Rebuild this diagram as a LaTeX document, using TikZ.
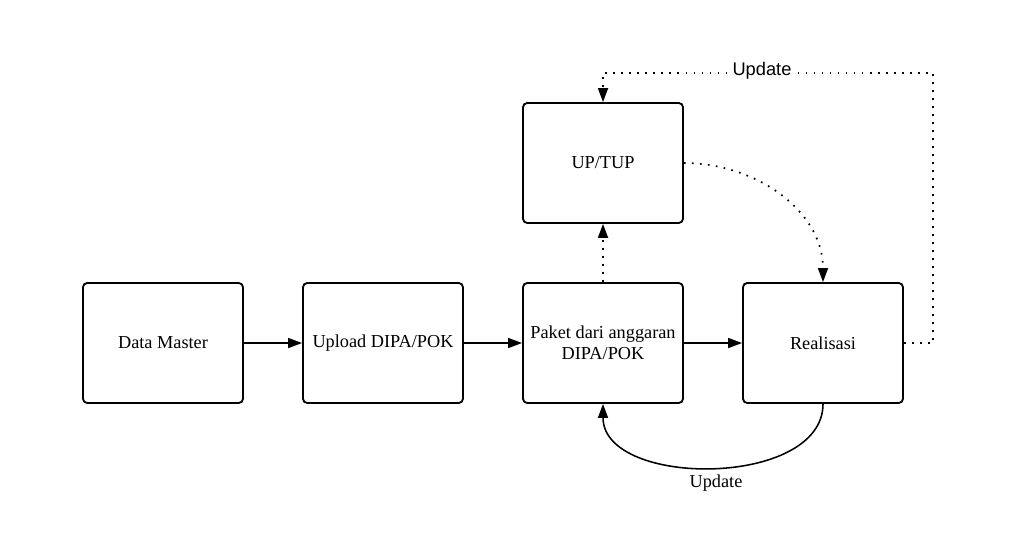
\documentclass[tikz,border=0pt]{standalone}
\usepackage{fontspec}
\setmainfont{Liberation Serif}
\newfontfamily\labelsans{Liberation Sans}
\usetikzlibrary{arrows.meta}
\tikzset{stagebox/.style={thick, draw=black, line width=1.3pt, rounded corners=3pt, minimum height=3cm, minimum width=4cm, align=center, font=\fontsize{13}{15}\selectfont}}
\tikzset{flowarrow/.style={line width=1.1pt, -{Triangle[length=0.35cm, width=0.25cm]}}}
\tikzset{dotarrow/.style={flowarrow, line width=1.2pt, dash pattern=on 1.2pt off 4.5pt}}

\begin{document}
\begin{tikzpicture}
    \newcommand\posD{4.075}
    \newcommand\posU{9.575}
    \newcommand\posP{15.075}
    \newcommand\posR{20.575}
    \newcommand\rowY{4.75}

    \useasboundingbox (0, 0) rectangle (25.5, 13.325);

    \node[stagebox] (data) at (\posD, \rowY){Data Master};
    \node[stagebox] (upload) at (\posU, \rowY){Upload DIPA/POK};
    \node[stagebox] (paket) at (\posP, \rowY){Paket dari anggaran\\DIPA/POK};
    \node[stagebox] (real) at (\posR, \rowY){Realisasi};
    \node[stagebox] (uptup) at (\posP, 9.25){UP/TUP};

    \draw[flowarrow] (data) -- (upload);
    \draw[flowarrow] (upload) -- (paket);
    \draw[flowarrow] (paket) -- (real);
    \draw[dotarrow] (paket) -- (uptup);

    \draw[dotarrow] (uptup.east) to[out=0, in=90] (real.north);

    \coordinate (cornR) at (23.325, \rowY);
    \coordinate (cornT) at (23.325, 11.5);
    \coordinate (cornL) at (\posP, 11.5);
    \draw[dotarrow] (real.east) -- (cornR) -- (cornT) -- (cornL) -- (uptup.north);
    \node[fill=white, inner sep=0.3pt, font=\labelsans\fontsize{13}{15}\selectfont] (updTop) at (19.05, 11.55){Update};

    \draw[flowarrow] (real.south) .. controls (20.575, 1.12) and (15.075, 1.12) .. (paket.south);
    \node[font=\fontsize{13}{15}\selectfont] (updBot) at (17.9, 1.25){Update};
\end{tikzpicture}
\end{document}
